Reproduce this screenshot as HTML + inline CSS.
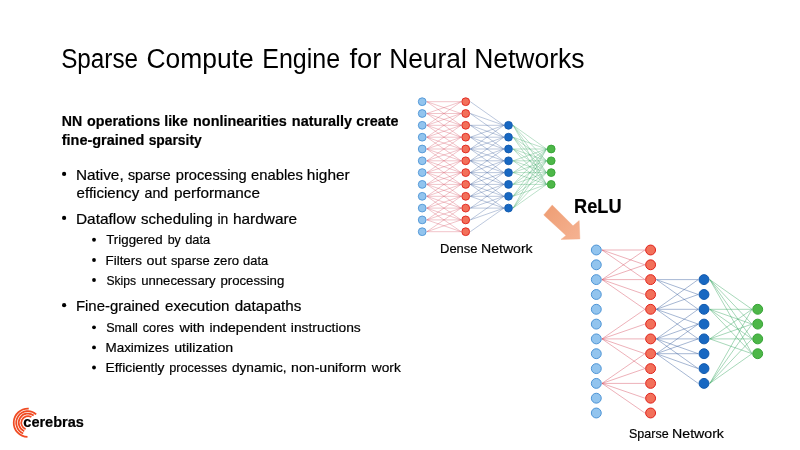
<!DOCTYPE html>
<html><head><meta charset="utf-8"><title>Sparse Compute Engine for Neural Networks</title>
<style>
html,body{margin:0;padding:0;background:#fff;width:800px;height:450px;overflow:hidden}
svg{display:block;will-change:transform}
text{font-family:"Liberation Sans",sans-serif;fill:#000;stroke:#000;stroke-width:0.2px}
.ttl{stroke:none}
</style></head><body>
<svg width="800" height="450" viewBox="0 0 800 450">
<rect width="800" height="450" fill="#fff"/>
<path d="M426.8 101.7L461.1 101.7M426.8 101.7L461.1 113.5M426.8 101.7L461.1 125.3M426.8 113.5L461.1 101.7M426.8 113.5L461.1 113.5M426.8 113.5L461.1 125.3M426.8 113.5L461.1 137.2M426.8 125.3L461.1 101.7M426.8 125.3L461.1 113.5M426.8 125.3L461.1 125.3M426.8 125.3L461.1 137.2M426.8 125.3L461.1 149.0M426.8 137.2L461.1 113.5M426.8 137.2L461.1 125.3M426.8 137.2L461.1 137.2M426.8 137.2L461.1 149.0M426.8 137.2L461.1 160.8M426.8 149.0L461.1 125.3M426.8 149.0L461.1 137.2M426.8 149.0L461.1 149.0M426.8 149.0L461.1 160.8M426.8 149.0L461.1 172.6M426.8 160.8L461.1 137.2M426.8 160.8L461.1 149.0M426.8 160.8L461.1 160.8M426.8 160.8L461.1 172.6M426.8 160.8L461.1 184.4M426.8 172.6L461.1 149.0M426.8 172.6L461.1 160.8M426.8 172.6L461.1 172.6M426.8 172.6L461.1 184.4M426.8 172.6L461.1 196.3M426.8 184.4L461.1 160.8M426.8 184.4L461.1 172.6M426.8 184.4L461.1 184.4M426.8 184.4L461.1 196.3M426.8 184.4L461.1 208.1M426.8 196.3L461.1 172.6M426.8 196.3L461.1 184.4M426.8 196.3L461.1 196.3M426.8 196.3L461.1 208.1M426.8 196.3L461.1 219.9M426.8 208.1L461.1 184.4M426.8 208.1L461.1 196.3M426.8 208.1L461.1 208.1M426.8 208.1L461.1 219.9M426.8 208.1L461.1 231.7M426.8 219.9L461.1 196.3M426.8 219.9L461.1 208.1M426.8 219.9L461.1 219.9M426.8 219.9L461.1 231.7M426.8 231.7L461.1 208.1M426.8 231.7L461.1 219.9M426.8 231.7L461.1 231.7" stroke="#D4475A" stroke-width="0.38" fill="none" stroke-opacity="0.85"/>
<path d="M470.3 101.7L503.9 125.3M470.3 113.5L503.9 125.3M470.3 113.5L503.9 137.2M470.3 125.3L503.9 125.3M470.3 125.3L503.9 137.2M470.3 125.3L503.9 149.0M470.3 137.2L503.9 125.3M470.3 137.2L503.9 137.2M470.3 137.2L503.9 149.0M470.3 137.2L503.9 160.8M470.3 149.0L503.9 125.3M470.3 149.0L503.9 137.2M470.3 149.0L503.9 149.0M470.3 149.0L503.9 160.8M470.3 149.0L503.9 172.6M470.3 160.8L503.9 137.2M470.3 160.8L503.9 149.0M470.3 160.8L503.9 160.8M470.3 160.8L503.9 172.6M470.3 160.8L503.9 184.4M470.3 172.6L503.9 149.0M470.3 172.6L503.9 160.8M470.3 172.6L503.9 172.6M470.3 172.6L503.9 184.4M470.3 172.6L503.9 196.3M470.3 184.4L503.9 160.8M470.3 184.4L503.9 172.6M470.3 184.4L503.9 184.4M470.3 184.4L503.9 196.3M470.3 184.4L503.9 208.1M470.3 196.3L503.9 172.6M470.3 196.3L503.9 184.4M470.3 196.3L503.9 196.3M470.3 196.3L503.9 208.1M470.3 208.1L503.9 184.4M470.3 208.1L503.9 196.3M470.3 208.1L503.9 208.1M470.3 219.9L503.9 196.3M470.3 219.9L503.9 208.1M470.3 231.7L503.9 208.1" stroke="#2E5596" stroke-width="0.38" fill="none" stroke-opacity="0.85"/>
<path d="M513.1 125.3L546.6 149.0M513.1 125.3L546.6 160.8M513.1 125.3L546.6 172.6M513.1 125.3L546.6 184.4M513.1 137.2L546.6 149.0M513.1 137.2L546.6 160.8M513.1 137.2L546.6 172.6M513.1 137.2L546.6 184.4M513.1 149.0L546.6 149.0M513.1 149.0L546.6 160.8M513.1 149.0L546.6 172.6M513.1 149.0L546.6 184.4M513.1 160.8L546.6 149.0M513.1 160.8L546.6 160.8M513.1 160.8L546.6 172.6M513.1 160.8L546.6 184.4M513.1 172.6L546.6 149.0M513.1 172.6L546.6 160.8M513.1 172.6L546.6 172.6M513.1 172.6L546.6 184.4M513.1 184.4L546.6 149.0M513.1 184.4L546.6 160.8M513.1 184.4L546.6 172.6M513.1 184.4L546.6 184.4M513.1 196.3L546.6 149.0M513.1 196.3L546.6 160.8M513.1 196.3L546.6 172.6M513.1 196.3L546.6 184.4M513.1 208.1L546.6 149.0M513.1 208.1L546.6 160.8M513.1 208.1L546.6 172.6M513.1 208.1L546.6 184.4" stroke="#2FA35A" stroke-width="0.38" fill="none" stroke-opacity="0.85"/>
<g fill="#92C4EE" stroke="#4F95D6" stroke-width="0.9">
<circle cx="422.2" cy="101.7" r="3.9"/>
<circle cx="422.2" cy="113.5" r="3.9"/>
<circle cx="422.2" cy="125.3" r="3.9"/>
<circle cx="422.2" cy="137.2" r="3.9"/>
<circle cx="422.2" cy="149.0" r="3.9"/>
<circle cx="422.2" cy="160.8" r="3.9"/>
<circle cx="422.2" cy="172.6" r="3.9"/>
<circle cx="422.2" cy="184.4" r="3.9"/>
<circle cx="422.2" cy="196.3" r="3.9"/>
<circle cx="422.2" cy="208.1" r="3.9"/>
<circle cx="422.2" cy="219.9" r="3.9"/>
<circle cx="422.2" cy="231.7" r="3.9"/>
</g>
<g fill="#F2705A" stroke="#E0221C" stroke-width="0.9">
<circle cx="465.7" cy="101.7" r="3.9"/>
<circle cx="465.7" cy="113.5" r="3.9"/>
<circle cx="465.7" cy="125.3" r="3.9"/>
<circle cx="465.7" cy="137.2" r="3.9"/>
<circle cx="465.7" cy="149.0" r="3.9"/>
<circle cx="465.7" cy="160.8" r="3.9"/>
<circle cx="465.7" cy="172.6" r="3.9"/>
<circle cx="465.7" cy="184.4" r="3.9"/>
<circle cx="465.7" cy="196.3" r="3.9"/>
<circle cx="465.7" cy="208.1" r="3.9"/>
<circle cx="465.7" cy="219.9" r="3.9"/>
<circle cx="465.7" cy="231.7" r="3.9"/>
</g>
<g fill="#1868C2" stroke="#125AAE" stroke-width="0.9">
<circle cx="508.5" cy="125.3" r="3.9"/>
<circle cx="508.5" cy="137.2" r="3.9"/>
<circle cx="508.5" cy="149.0" r="3.9"/>
<circle cx="508.5" cy="160.8" r="3.9"/>
<circle cx="508.5" cy="172.6" r="3.9"/>
<circle cx="508.5" cy="184.4" r="3.9"/>
<circle cx="508.5" cy="196.3" r="3.9"/>
<circle cx="508.5" cy="208.1" r="3.9"/>
</g>
<g fill="#4DB748" stroke="#36A336" stroke-width="0.9">
<circle cx="551.2" cy="149.0" r="3.9"/>
<circle cx="551.2" cy="160.8" r="3.9"/>
<circle cx="551.2" cy="172.6" r="3.9"/>
<circle cx="551.2" cy="184.4" r="3.9"/>
</g>
<path d="M602.0 250.0L644.9 250.0M602.0 250.0L644.9 264.8M602.0 250.0L644.9 279.6M602.0 279.6L644.9 250.0M602.0 279.6L644.9 264.8M602.0 279.6L644.9 279.6M602.0 279.6L644.9 294.5M602.0 279.6L644.9 309.3M602.0 338.9L644.9 309.3M602.0 338.9L644.9 324.1M602.0 338.9L644.9 338.9M602.0 338.9L644.9 353.7M602.0 338.9L644.9 368.6M602.0 383.4L644.9 353.7M602.0 383.4L644.9 368.6M602.0 383.4L644.9 383.4M602.0 383.4L644.9 398.2M602.0 383.4L644.9 413.0" stroke="#D4475A" stroke-width="0.5" fill="none" stroke-opacity="0.85"/>
<path d="M656.4 279.6L698.2 279.6M656.4 279.6L698.2 294.5M656.4 279.6L698.2 309.3M656.4 309.3L698.2 279.6M656.4 309.3L698.2 294.5M656.4 309.3L698.2 309.3M656.4 309.3L698.2 324.1M656.4 309.3L698.2 338.9M656.4 338.9L698.2 309.3M656.4 338.9L698.2 324.1M656.4 338.9L698.2 338.9M656.4 338.9L698.2 353.7M656.4 338.9L698.2 368.6M656.4 353.7L698.2 324.1M656.4 353.7L698.2 338.9M656.4 353.7L698.2 353.7M656.4 353.7L698.2 368.6M656.4 353.7L698.2 383.4" stroke="#2E5596" stroke-width="0.5" fill="none" stroke-opacity="0.85"/>
<path d="M709.8 279.6L752.0 309.3M709.8 279.6L752.0 324.1M709.8 279.6L752.0 338.9M709.8 279.6L752.0 353.7M709.8 309.3L752.0 309.3M709.8 309.3L752.0 324.1M709.8 309.3L752.0 338.9M709.8 309.3L752.0 353.7M709.8 338.9L752.0 309.3M709.8 338.9L752.0 324.1M709.8 338.9L752.0 338.9M709.8 338.9L752.0 353.7M709.8 383.4L752.0 309.3M709.8 383.4L752.0 324.1M709.8 383.4L752.0 338.9M709.8 383.4L752.0 353.7" stroke="#2FA35A" stroke-width="0.5" fill="none" stroke-opacity="0.85"/>
<g fill="#92C4EE" stroke="#4F95D6" stroke-width="1.0">
<circle cx="596.3" cy="250.0" r="4.95"/>
<circle cx="596.3" cy="264.8" r="4.95"/>
<circle cx="596.3" cy="279.6" r="4.95"/>
<circle cx="596.3" cy="294.5" r="4.95"/>
<circle cx="596.3" cy="309.3" r="4.95"/>
<circle cx="596.3" cy="324.1" r="4.95"/>
<circle cx="596.3" cy="338.9" r="4.95"/>
<circle cx="596.3" cy="353.7" r="4.95"/>
<circle cx="596.3" cy="368.6" r="4.95"/>
<circle cx="596.3" cy="383.4" r="4.95"/>
<circle cx="596.3" cy="398.2" r="4.95"/>
<circle cx="596.3" cy="413.0" r="4.95"/>
</g>
<g fill="#F2705A" stroke="#E0221C" stroke-width="1.0">
<circle cx="650.6" cy="250.0" r="4.95"/>
<circle cx="650.6" cy="264.8" r="4.95"/>
<circle cx="650.6" cy="279.6" r="4.95"/>
<circle cx="650.6" cy="294.5" r="4.95"/>
<circle cx="650.6" cy="309.3" r="4.95"/>
<circle cx="650.6" cy="324.1" r="4.95"/>
<circle cx="650.6" cy="338.9" r="4.95"/>
<circle cx="650.6" cy="353.7" r="4.95"/>
<circle cx="650.6" cy="368.6" r="4.95"/>
<circle cx="650.6" cy="383.4" r="4.95"/>
<circle cx="650.6" cy="398.2" r="4.95"/>
<circle cx="650.6" cy="413.0" r="4.95"/>
</g>
<g fill="#1868C2" stroke="#125AAE" stroke-width="1.0">
<circle cx="704.0" cy="279.6" r="4.95"/>
<circle cx="704.0" cy="294.5" r="4.95"/>
<circle cx="704.0" cy="309.3" r="4.95"/>
<circle cx="704.0" cy="324.1" r="4.95"/>
<circle cx="704.0" cy="338.9" r="4.95"/>
<circle cx="704.0" cy="353.7" r="4.95"/>
<circle cx="704.0" cy="368.6" r="4.95"/>
<circle cx="704.0" cy="383.4" r="4.95"/>
</g>
<g fill="#4DB748" stroke="#36A336" stroke-width="1.0">
<circle cx="757.7" cy="309.3" r="4.95"/>
<circle cx="757.7" cy="324.1" r="4.95"/>
<circle cx="757.7" cy="338.9" r="4.95"/>
<circle cx="757.7" cy="353.7" r="4.95"/>
</g>
<defs><linearGradient id="ag" gradientUnits="userSpaceOnUse" x1="548" y1="210" x2="580" y2="239"><stop offset="0" stop-color="#EFA077"/><stop offset="1" stop-color="#F5B292"/></linearGradient></defs>
<polygon points="552.2,205 573,225.8 579.2,220.6 579.9,238.9 561,239.4 566,235.4 543.7,215" fill="url(#ag)" stroke="#F2AA84" stroke-width="0.4"/>
<g opacity="0.999"><text y="68.2" font-size="28.4" class="ttl"><tspan x="61.14" textLength="76.93" lengthAdjust="spacingAndGlyphs">Sparse</tspan> <tspan x="146.47" textLength="107.27" lengthAdjust="spacingAndGlyphs">Compute</tspan> <tspan x="262.24" textLength="77.86" lengthAdjust="spacingAndGlyphs">Engine</tspan> <tspan x="349.4" textLength="32.04" lengthAdjust="spacingAndGlyphs">for</tspan> <tspan x="389.14" textLength="77.67" lengthAdjust="spacingAndGlyphs">Neural</tspan> <tspan x="474.13" textLength="110.45" lengthAdjust="spacingAndGlyphs">Networks</tspan></text>
<text y="126.3" font-size="14.3" font-weight="bold"><tspan x="61.75" textLength="20.39" lengthAdjust="spacingAndGlyphs">NN</tspan> <tspan x="87.05" textLength="73.1" lengthAdjust="spacingAndGlyphs">operations</tspan> <tspan x="164.28" textLength="23.59" lengthAdjust="spacingAndGlyphs">like</tspan> <tspan x="193.05" textLength="93.7" lengthAdjust="spacingAndGlyphs">nonlinearities</tspan> <tspan x="291.87" textLength="60.27" lengthAdjust="spacingAndGlyphs">naturally</tspan> <tspan x="356.34" textLength="42.21" lengthAdjust="spacingAndGlyphs">create</tspan></text>
<text y="144.5" font-size="14.3" font-weight="bold"><tspan x="61.75" textLength="82.64" lengthAdjust="spacingAndGlyphs">fine-grained</tspan> <tspan x="148.65" textLength="53.05" lengthAdjust="spacingAndGlyphs">sparsity</tspan></text>
<text y="179.5" font-size="14.4"><tspan x="75.93" textLength="47.75" lengthAdjust="spacingAndGlyphs">Native,</tspan> <tspan x="127.89" textLength="42.72" lengthAdjust="spacingAndGlyphs">sparse</tspan> <tspan x="175.84" textLength="70.85" lengthAdjust="spacingAndGlyphs">processing</tspan> <tspan x="251.14" textLength="51.7" lengthAdjust="spacingAndGlyphs">enables</tspan> <tspan x="306.87" textLength="42.91" lengthAdjust="spacingAndGlyphs">higher</tspan></text>
<text y="197.75" font-size="14.4"><tspan x="76.6" textLength="62.6" lengthAdjust="spacingAndGlyphs">efficiency</tspan> <tspan x="144.51" textLength="23.69" lengthAdjust="spacingAndGlyphs">and</tspan> <tspan x="174.05" textLength="85.95" lengthAdjust="spacingAndGlyphs">performance</tspan></text>
<text y="223.5" font-size="14.4"><tspan x="75.93" textLength="60.12" lengthAdjust="spacingAndGlyphs">Dataflow</tspan> <tspan x="141.05" textLength="71.68" lengthAdjust="spacingAndGlyphs">scheduling</tspan> <tspan x="217.5" textLength="10.82" lengthAdjust="spacingAndGlyphs">in</tspan> <tspan x="232.94" textLength="64.26" lengthAdjust="spacingAndGlyphs">hardware</tspan></text>
<text y="244.25" font-size="13.2"><tspan x="106.25" textLength="56.35" lengthAdjust="spacingAndGlyphs">Triggered</tspan> <tspan x="167.7" textLength="13.15" lengthAdjust="spacingAndGlyphs">by</tspan> <tspan x="185.13" textLength="25.02" lengthAdjust="spacingAndGlyphs">data</tspan></text>
<text y="264.5" font-size="13.2"><tspan x="105.59" textLength="36.29" lengthAdjust="spacingAndGlyphs">Filters</tspan> <tspan x="146.61" textLength="19.84" lengthAdjust="spacingAndGlyphs">out</tspan> <tspan x="170.9" textLength="38.82" lengthAdjust="spacingAndGlyphs">sparse</tspan> <tspan x="213.51" textLength="25.66" lengthAdjust="spacingAndGlyphs">zero</tspan> <tspan x="243.1" textLength="25.05" lengthAdjust="spacingAndGlyphs">data</tspan></text>
<text y="284.5" font-size="13.2"><tspan x="106.4" textLength="29.66" lengthAdjust="spacingAndGlyphs">Skips</tspan> <tspan x="141.18" textLength="74.5" lengthAdjust="spacingAndGlyphs">unnecessary</tspan> <tspan x="220.42" textLength="63.91" lengthAdjust="spacingAndGlyphs">processing</tspan></text>
<text y="310.8" font-size="14.4"><tspan x="75.96" textLength="83.69" lengthAdjust="spacingAndGlyphs">Fine-grained</tspan> <tspan x="165.02" textLength="64.47" lengthAdjust="spacingAndGlyphs">execution</tspan> <tspan x="234.68" textLength="66.72" lengthAdjust="spacingAndGlyphs">datapaths</tspan></text>
<text y="331.8" font-size="13.2"><tspan x="106.2" textLength="31.56" lengthAdjust="spacingAndGlyphs">Small</tspan> <tspan x="142.71" textLength="31.2" lengthAdjust="spacingAndGlyphs">cores</tspan> <tspan x="179.4" textLength="25.39" lengthAdjust="spacingAndGlyphs">with</tspan> <tspan x="209.4" textLength="76.73" lengthAdjust="spacingAndGlyphs">independent</tspan> <tspan x="290.85" textLength="69.92" lengthAdjust="spacingAndGlyphs">instructions</tspan></text>
<text y="351.9" font-size="13.2"><tspan x="105.48" textLength="63.49" lengthAdjust="spacingAndGlyphs">Maximizes</tspan> <tspan x="174.17" textLength="58.99" lengthAdjust="spacingAndGlyphs">utilization</tspan></text>
<text y="372" font-size="13.2"><tspan x="105.55" textLength="58.88" lengthAdjust="spacingAndGlyphs">Efficiently</tspan> <tspan x="169.2" textLength="58.02" lengthAdjust="spacingAndGlyphs">processes</tspan> <tspan x="231.92" textLength="54.71" lengthAdjust="spacingAndGlyphs">dynamic,</tspan> <tspan x="291.14" textLength="75.22" lengthAdjust="spacingAndGlyphs">non-uniform</tspan> <tspan x="371.85" textLength="28.93" lengthAdjust="spacingAndGlyphs">work</tspan></text>
<text y="253.3" font-size="13.2"><tspan x="440.01" textLength="37.57" lengthAdjust="spacingAndGlyphs">Dense</tspan> <tspan x="480.99" textLength="51.67" lengthAdjust="spacingAndGlyphs">Network</tspan></text>
<text y="437.6" font-size="13.2"><tspan x="629" textLength="39.65" lengthAdjust="spacingAndGlyphs">Sparse</tspan> <tspan x="672.09" textLength="51.87" lengthAdjust="spacingAndGlyphs">Network</tspan></text>
<text y="212.9" font-size="20.2" font-weight="bold"><tspan x="574.1" textLength="47.42" lengthAdjust="spacingAndGlyphs">ReLU</tspan></text>
<circle cx="64.1" cy="173.9" r="2.1" fill="#000"/>
<circle cx="64.1" cy="217.9" r="2.1" fill="#000"/>
<circle cx="64.1" cy="305.2" r="2.1" fill="#000"/>
<circle cx="94" cy="239.75" r="1.9" fill="#000"/>
<circle cx="94" cy="260.0" r="1.9" fill="#000"/>
<circle cx="94" cy="280.0" r="1.9" fill="#000"/>
<circle cx="94" cy="327.3" r="1.9" fill="#000"/>
<circle cx="94" cy="347.4" r="1.9" fill="#000"/>
<circle cx="94" cy="367.5" r="1.9" fill="#000"/></g>
<path d="M28.74 408.62A14.2 14.2 0 1 0 27.50 436.99M36.16 414.35A11.75 11.75 0 1 0 23.22 433.53M33.69 415.51A9.25 9.25 0 1 0 24.24 431.25M31.38 416.95A6.75 6.75 0 1 0 25.58 429.10" stroke="#F04B23" stroke-width="1.75" fill="none"/><text x="23.3" y="426.8" font-size="15" font-weight="bold" stroke="none" textLength="60.6" lengthAdjust="spacingAndGlyphs">cerebras</text>
</svg>
</body></html>
